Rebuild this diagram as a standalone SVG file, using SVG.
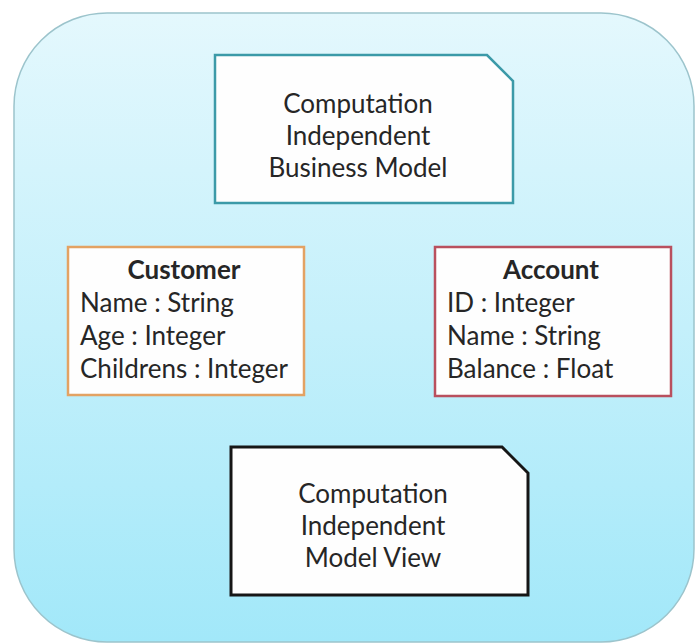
<svg xmlns="http://www.w3.org/2000/svg" width="696" height="644" viewBox="0 0 696 644">
<defs>
<linearGradient id="bg" x1="0" y1="0" x2="0" y2="1">
<stop offset="0" stop-color="#e4f8fd"/>
<stop offset="0.5" stop-color="#c4f0fb"/>
<stop offset="1" stop-color="#a2e8f9"/>
</linearGradient>
</defs>
<style>
text{font-family:Lato,"Open Sans","Liberation Sans",sans-serif;font-size:26px;fill:#262626}
.c{text-anchor:middle}
.b{font-weight:bold}
.box{fill:#fefefe}
</style>
<rect x="14" y="13" width="680" height="629" rx="93" ry="93" fill="url(#bg)" stroke="#9cc4cc" stroke-width="1.5"/>
<g id="cibm">
<path class="box" d="M215,55 H487 L513,81 V203 H215 Z" stroke="#3c9aa8" stroke-width="2.5"/>
<text class="c" x="358" y="113">Computation</text>
<text class="c" x="358" y="145">Independent</text>
<text class="c" x="358" y="177">Business Model</text>
</g>
<g id="customer">
<rect class="box" x="68" y="247" width="236" height="148" stroke="#e3a263" stroke-width="2.5"/>
<text class="c b" x="184" y="279">Customer</text>
<text x="80" y="312">Name : String</text>
<text x="80" y="345">Age : Integer</text>
<text x="80" y="378">Childrens : Integer</text>
</g>
<g id="account">
<rect class="box" x="435" y="247" width="236" height="149" stroke="#b9505e" stroke-width="2.5"/>
<text class="c b" x="551" y="279">Account</text>
<text x="447" y="312">ID : Integer</text>
<text x="447" y="345">Name : String</text>
<text x="447" y="378">Balance : Float</text>
</g>
<g id="cimv">
<path class="box" d="M231,447 H502 L528,473 V595 H231 Z" stroke="#161616" stroke-width="3"/>
<text class="c" x="373" y="503">Computation</text>
<text class="c" x="373" y="535">Independent</text>
<text class="c" x="373" y="567">Model View</text>
</g>
<g id="connectors"/>
</svg>
